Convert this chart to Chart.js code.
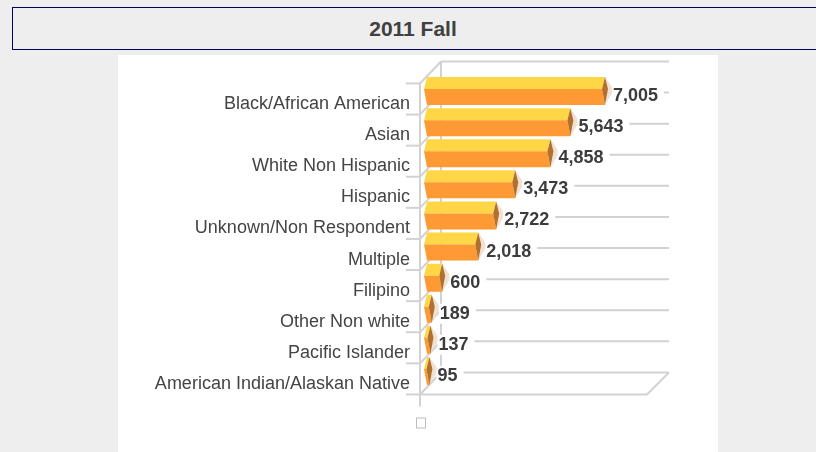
<!DOCTYPE html>
<html><head><meta charset="utf-8">
<script src="https://cdn.jsdelivr.net/npm/chart.js@4.4.1/dist/chart.umd.min.js"></script>
<style>
html,body{margin:0;padding:0;background:#eeeeee;width:816px;height:452px;overflow:hidden;font-family:"Liberation Sans",Arial,sans-serif;}
#title{position:absolute;left:12px;top:7px;width:830px;height:43px;box-sizing:border-box;border:1px solid #00005e;padding-right:28px;text-align:center;line-height:41px;font-weight:bold;font-size:21px;color:#404040;}
#panel{position:absolute;left:118px;top:55px;width:600px;height:397px;background:#ffffff;}
canvas{display:block;}
</style>
</head><body>
<div id="title">2011 Fall</div>
<div id="panel"><canvas id="c" width="600" height="397"></canvas></div>
<script>
// ---- data ----
const categories = ["Black/African American","Asian","White Non Hispanic","Hispanic","Unknown/Non Respondent","Multiple","Filipino","Other Non white","Pacific Islander","American Indian/Alaskan Native"];
const enrollment = [7005, 5643, 4858, 3473, 2722, 2018, 600, 189, 137, 95];
const axisMin = 0;
const axisMax = 8815;

const FONT = 'Liberation Sans, Arial, sans-serif';

const threeD = {
  id: 'threeD',
  beforeDatasetsDraw(chart) {
    const ctx = chart.ctx, xs = chart.scales.x, ys = chart.scales.y;
    const x0 = xs.getPixelForValue(axisMin);
    const xEnd = xs.getPixelForValue(axisMax);
    const c0 = ys.getPixelForValue(0);
    const cat = ys.getPixelForValue(1) - c0;
    const n = categories.length;
    const backY = [];
    for (let i = -1; i < n; i++) backY.push(c0 + i * cat + 1.5);
    const dx = 21, dy = 22;
    const xF0 = x0 - 4, xF1 = xEnd - 1, xB0 = xF0 + dx, xB1 = xF1 + dx + 1;
    ctx.save();
    ctx.strokeStyle = '#d2d2d2';
    ctx.lineWidth = 2;
    const line = (a, b, c, d) => { ctx.beginPath(); ctx.moveTo(a, b); ctx.lineTo(c, d); ctx.stroke(); };
    // back wall gridlines
    backY.forEach(y => line(xB0, y, xB1, y));
    // back wall left edge
    line(xB0, backY[0], xB0, backY[backY.length - 1]);
    // left wall diagonals and ticks
    backY.forEach(y => { line(xF0, y + dy, xB0, y); line(xF0 - 14, y + dy, xF0, y + dy); });
    // floor
    const yb = backY[backY.length - 1];
    line(xF0, yb + dy, xF1, yb + dy);
    line(xF1, yb + dy, xB1, yb);
    // front axis
    line(xF0, backY[0] + dy, xF0, yb + dy + 12);
    // empty legend marker
    ctx.lineWidth = 1;
    ctx.strokeStyle = '#bdbdbd';
    ctx.fillStyle = '#ffffff';
    ctx.fillRect(chart.chartArea.left - 8, chart.chartArea.bottom + 31, 10, 11);
    ctx.strokeRect(chart.chartArea.left - 7.5, chart.chartArea.bottom + 31.5, 9, 10);
    ctx.restore();
  },
  afterDatasetsDraw(chart) {
    const ctx = chart.ctx;
    const meta = chart.getDatasetMeta(0);
    ctx.save();
    const poly = (pts, color) => {
      ctx.beginPath(); ctx.moveTo(pts[0][0], pts[0][1]);
      for (let k = 1; k < pts.length; k++) ctx.lineTo(pts[k][0], pts[k][1]);
      ctx.closePath(); ctx.fillStyle = color; ctx.fill();
    };
    meta.data.forEach((el, i) => {
      const xb = el.base, xe = el.x, c = el.y;
      const top = c - 14, mid = c - 2, bot = c + 14, a = 3;
      // shadow
      poly([[xe + a, top], [xe + a + 9, mid + 1], [xe + a, bot], [xe + a + 3, mid]], '#efe1d3');
      // top face
      poly([[xb + a, top], [xe + a, top], [xe, mid], [xb, mid]], '#fed646');
      // front face
      poly([[xb, mid], [xe, mid], [xe + a, bot], [xb + a, bot]], '#fe9a33');
      // end cap
      poly([[xe + a, top], [xe, mid], [xe + a, bot], [xe + a + 3, mid]], '#b3702c');
    });
    // value labels
    ctx.font = 'bold 18px ' + FONT;
    ctx.textBaseline = 'middle';
    ctx.textAlign = 'left';
    meta.data.forEach((el, i) => {
      const txt = enrollment[i].toLocaleString('en-US');
      const w = ctx.measureText(txt).width;
      const tx = el.x + 11, ty = el.y + 5;
      ctx.fillStyle = '#ffffff';
      ctx.fillRect(tx - 1, ty - 10, w + 7, 20);
      ctx.fillStyle = '#3c3c3c';
      ctx.fillText(txt, tx, ty);
    });
    ctx.restore();
  }
};

new Chart(document.getElementById('c'), {
  type: 'bar',
  data: {
    labels: categories,
    datasets: [{ label: '', data: enrollment, backgroundColor: 'rgba(0,0,0,0)', borderWidth: 0 }]
  },
  options: {
    indexAxis: 'y',
    responsive: false,
    animation: false,
    devicePixelRatio: 1,
    layout: { padding: { left: 0, right: 70, top: 20.5, bottom: 65.5 } },
    plugins: { legend: { display: false }, tooltip: { enabled: false } },
    scales: {
      x: { display: false, min: axisMin, max: axisMax },
      y: {
        position: 'left',
        grid: { display: false },
        border: { display: false },
        ticks: { autoSkip: false, color: '#444444', padding: 6, labelOffset: 13, font: { family: FONT, size: 18 } },
        afterFit: s => { s.width = 306; }
      }
    }
  },
  plugins: [threeD]
});
</script>
</body></html>
